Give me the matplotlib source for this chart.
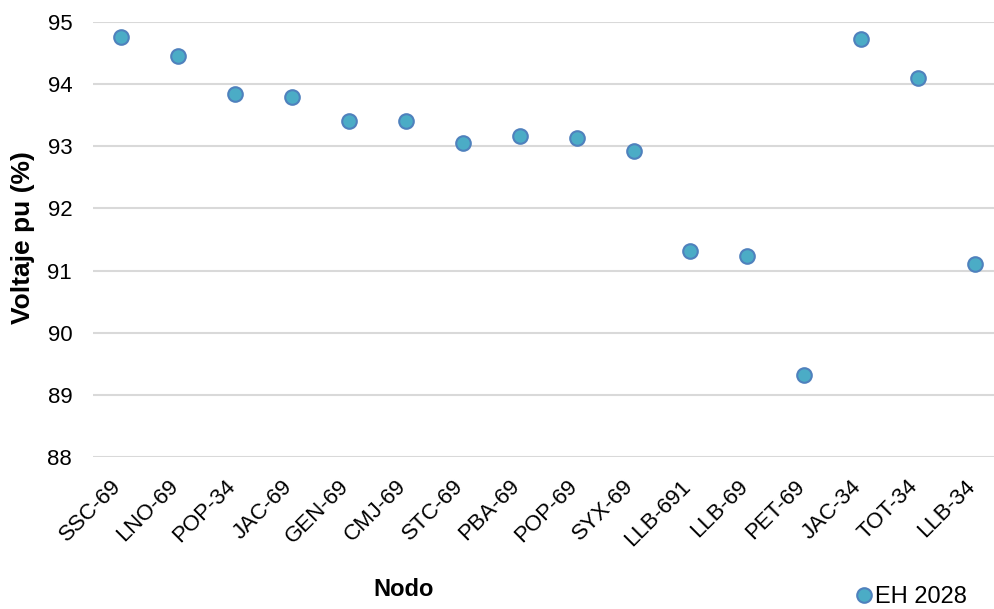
import matplotlib
matplotlib.use("Agg")
import matplotlib.pyplot as plt
import matplotlib.transforms as mtransforms

plt.rcParams['font.family'] = ['Liberation Sans', 'DejaVu Sans']

nodos = ["SSC-69", "LNO-69", "POP-34", "JAC-69", "GEN-69", "CMJ-69", "STC-69", "PBA-69",
         "POP-69", "SYX-69", "LLB-691", "LLB-69", "PET-69", "JAC-34", "TOT-34", "LLB-34"]
voltaje = [94.76, 94.45, 93.84, 93.79, 93.41, 93.41, 93.05, 93.16,
           93.13, 92.92, 91.32, 91.24, 89.32, 94.72, 94.10, 91.11]
serie = "EH 2028"
yticks = [88, 89, 90, 91, 92, 93, 94, 95]

W, H = 994, 609
fig = plt.figure(figsize=(W/100, H/100), dpi=100)
left, right = 93/W, 994/W
top, bottom = 1-22/H, 1-457/H
ax = fig.add_axes([left, bottom, right-left, top-bottom])

x = list(range(len(nodos)))
ax.plot(x, voltaje, linestyle='none', marker='o', markersize=10.5,
        markerfacecolor='#4BACC6', markeredgecolor='#4F81BD', markeredgewidth=1.5,
        label=serie, clip_on=False, zorder=3)

ax.set_ylim(88, 95)
ax.set_yticks(yticks)
ax.set_yticklabels([str(v) for v in yticks], fontsize=16)
ax.set_xlim(-0.5, 15 + (994-975)/56.93)
ax.set_xticks(x)
ax.set_xticklabels(nodos, rotation=45, ha='right', va='center', rotation_mode='anchor', fontsize=16)
ax.tick_params(axis='both', length=0, colors='#000000')
ax.tick_params(axis='y', pad=15)
ax.tick_params(axis='x', pad=19)
off = mtransforms.ScaledTranslation(-3/100, 0, fig.dpi_scale_trans)
for lab in ax.get_xticklabels():
    lab.set_transform(lab.get_transform() + off)
for s in ax.spines.values():
    s.set_visible(False)
ax.grid(axis='y', color='#D9D9D9', linewidth=1.5)
ax.set_axisbelow(True)

fig.text(23/W, 1-238/H, "Voltaje pu (%)", rotation=90, fontsize=19, fontweight='bold',
         ha='center', va='center')
fig.text(404/W, 1-589/H, "Nodo", fontsize=17, fontweight='bold', ha='center', va='center')

leg = fig.legend(loc='center left', bbox_to_anchor=(858/W, 1-597/H), frameon=False,
                 fontsize=17, handlelength=0.5, handletextpad=0.2, borderpad=0, borderaxespad=0)

fig.savefig("out.png", dpi=100)
